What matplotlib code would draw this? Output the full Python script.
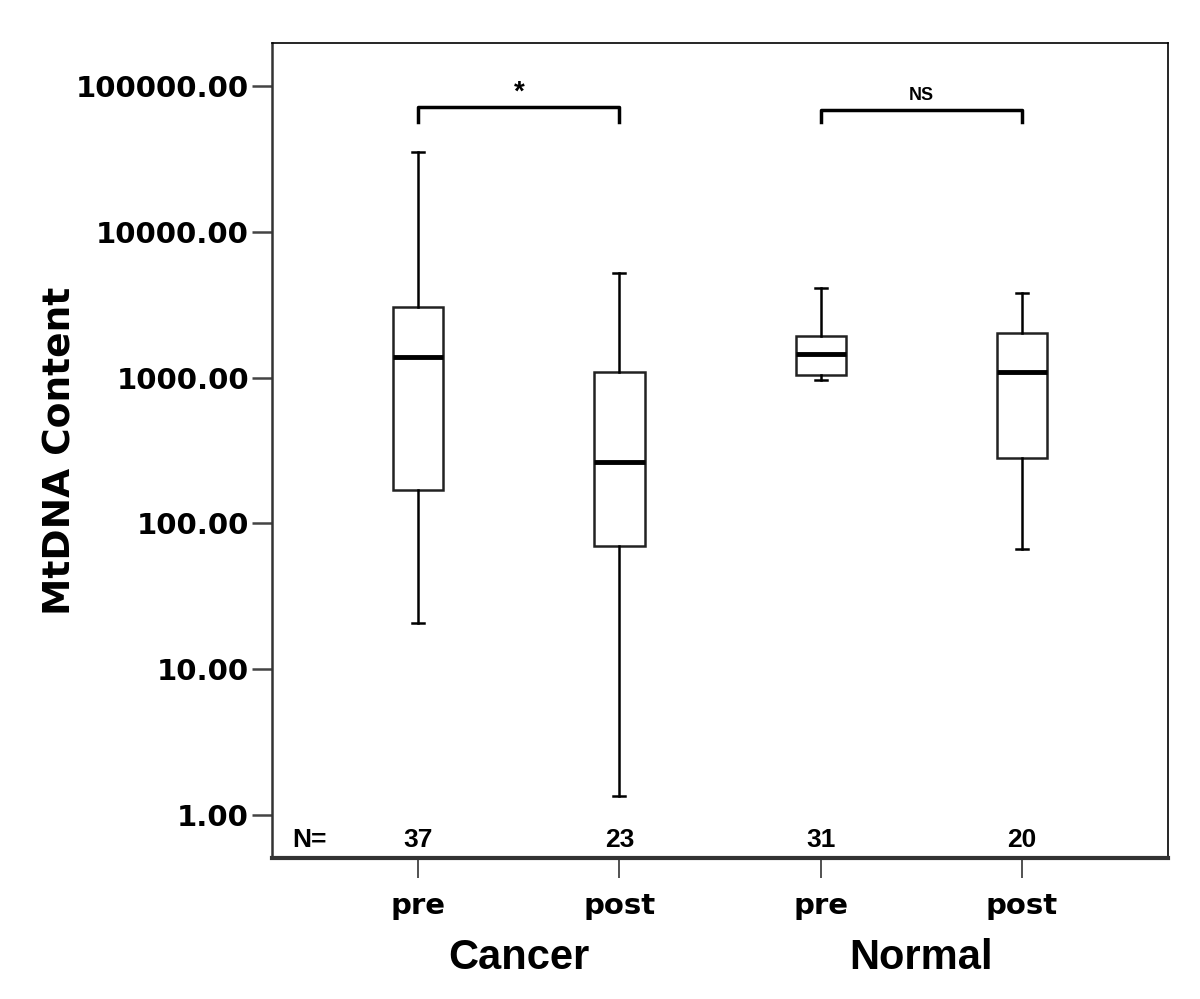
import matplotlib
matplotlib.use("Agg")
import matplotlib.pyplot as plt
from matplotlib import font_manager

# Box statistics (log-scale y)
groups = ["pre", "post", "pre", "post"]
counts = [37, 23, 31, 20]
whislo = [20.7, 1.35, 963, 66.7]
q1 = [169, 70, 1042, 281]
med = [1384, 264, 1452, 1092]
q3 = [3050, 1092, 1928, 2023]
whishi = [35250, 5215, 4120, 3803]
ytick_vals = [1, 10, 100, 1000, 10000, 100000]

names = {f.name for f in font_manager.fontManager.ttflist}
narrow = "Liberation Sans Narrow" if "Liberation Sans Narrow" in names else "Liberation Sans"

fig = plt.figure(figsize=(12, 9.99), dpi=100)
ax = fig.add_axes([0.2267, 0.1411, 0.7467, 0.8158])

stats = []
for i in range(len(groups)):
    stats.append({"med": med[i], "q1": q1[i], "q3": q3[i],
                  "whislo": whislo[i], "whishi": whishi[i], "fliers": []})

pos = [1, 2, 3, 4]
ax.bxp(stats, positions=pos, widths=0.25, capwidths=0.06, showfliers=False,
       patch_artist=True,
       boxprops=dict(facecolor="white", edgecolor="#222222", linewidth=1.8),
       medianprops=dict(color="black", linewidth=3.5),
       whiskerprops=dict(color="black", linewidth=1.8),
       capprops=dict(color="black", linewidth=1.8))

ax.set_yscale("log")
ax.set_ylim(0.507, 197000)
ax.set_xlim(0.274, 4.726)
ax.set_yticks(ytick_vals)
ax.set_yticklabels(["%.2f" % v for v in ytick_vals])
ax.minorticks_off()
ax.tick_params(axis="y", length=14.5, width=1.8, color="#444444", pad=2)
for lab in ax.get_yticklabels():
    lab.set_fontfamily("DejaVu Sans")
    lab.set_fontweight("heavy")
    lab.set_fontsize(21)

ax.set_xticks(pos)
ax.set_xticklabels(groups)
ax.tick_params(axis="x", length=14.5, width=1.2, color="#333333", pad=10)
for lab in ax.get_xticklabels():
    lab.set_fontfamily("DejaVu Sans")
    lab.set_fontweight("heavy")
    lab.set_fontsize(21)

for s in ["top", "right"]:
    ax.spines[s].set_linewidth(1.2)
ax.spines["left"].set_linewidth(1.8)
ax.spines["left"].set_color("#333333")
ax.spines["bottom"].set_linewidth(3)
ax.spines["bottom"].set_color("#333333")

ax.set_ylabel("MtDNA Content", fontfamily="DejaVu Sans", fontweight="heavy",
              fontsize=27, labelpad=-2)

# N= row
trans = ax.get_xaxis_transform()
ax.text(0.46, 0.022, "N=", transform=trans, ha="center", va="center",
        fontfamily=narrow, fontweight="bold", fontsize=19)
for p, n in zip(pos, counts):
    ax.text(p, 0.022, str(n), transform=trans, ha="center", va="center",
            fontfamily=narrow, fontweight="bold", fontsize=19)

# significance brackets
ax.plot([1, 1, 2, 2], [56600, 71800, 71800, 56600], color="black", lw=2.5)
ax.text(1.5, 73000, "*", ha="center", va="bottom", fontsize=20,
        fontfamily=narrow, fontweight="bold")
ax.plot([3, 3, 4, 4], [56600, 68400, 68400, 56600], color="black", lw=2.5)
ax.text(3.5, 75000, "NS", ha="center", va="bottom", fontsize=13,
        fontfamily=narrow, fontweight="bold")

# group labels
for xc, name in [(1.5, "Cancer"), (3.5, "Normal")]:
    ax.text(xc, -0.123, name, transform=trans, ha="center", va="center",
            fontfamily=narrow, fontweight="bold", fontsize=30)

fig.savefig("out.png", dpi=100)
